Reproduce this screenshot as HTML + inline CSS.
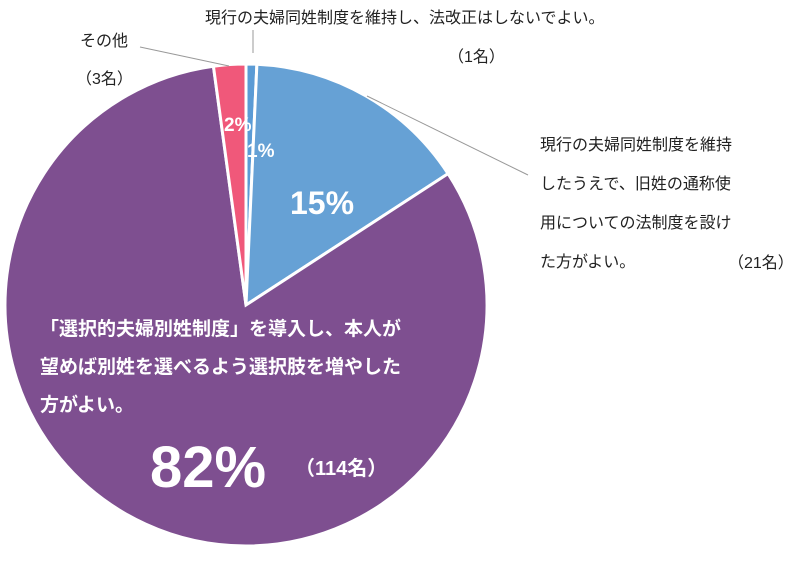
<!DOCTYPE html>
<html><head><meta charset="utf-8"><style>
body{margin:0;background:#fff;width:800px;height:558px;overflow:hidden;font-family:"Liberation Sans","Noto Sans CJK JP",sans-serif}
</style></head><body>
<svg id="c" width="800" height="558" xmlns="http://www.w3.org/2000/svg" style="font-family:'Liberation Sans','Noto Sans CJK JP',sans-serif">
<g id="slices"></g>
<g stroke="#999" stroke-width="1" fill="none">
<line x1="140" y1="47" x2="229" y2="66"/>
<line x1="253" y1="53" x2="253" y2="30"/>
<polyline points="367,96 528,175"/>
</g>
<g font-size="16" fill="#222">
<text x="205" y="23">現行の夫婦同姓制度を維持し、法改正はしないでよい。</text>
<text x="448" y="62">（1名）</text>
<text x="80" y="46">その他</text>
<text x="76" y="84">（3名）</text>
<text x="540" y="150">現行の夫婦同姓制度を維持</text>
<text x="540" y="189">したうえで、旧姓の通称使</text>
<text x="540" y="228">用についての法制度を設け</text>
<text x="540" y="267">た方がよい。</text>
<text x="728" y="268">（21名）</text>
</g>
<g fill="#fff" font-weight="bold">
<text x="224" y="131" font-size="19">2%</text>
<text x="247" y="157" font-size="19">1%</text>
<text x="290" y="214" font-size="32">15%</text>
<text x="40" y="335" font-size="19">「選択的夫婦別姓制度」を導入し、本人が</text>
<text x="40" y="373" font-size="19">望めば別姓を選べるよう選択肢を増やした</text>
<text x="40" y="411" font-size="19">方がよい。</text>
<text x="150" y="487" font-size="58">82%</text>
<text x="295" y="475" font-size="20">（114名）</text>
</g>
</svg>
<script>
const categories=["keep","oldSurname","separate","other"];
const counts=[1,21,114,3];
const colors=["#5B9BD5","#66A1D5","#7E4F90","#F0587A"];
const cx=246,cy=305,r=241;
const g=document.getElementById('slices');
const total=counts.reduce((a,b)=>a+b,0);
let a0=-Math.PI/2;
counts.forEach((v,i)=>{
  const a1=a0+v/total*2*Math.PI;
  const large=(a1-a0)>Math.PI?1:0;
  const p=document.createElementNS('http://www.w3.org/2000/svg','path');
  const x0=cx+r*Math.cos(a0),y0=cy+r*Math.sin(a0),x1=cx+r*Math.cos(a1),y1=cy+r*Math.sin(a1);
  p.setAttribute('d',`M${cx},${cy}L${x0},${y0}A${r},${r} 0 ${large} 1 ${x1},${y1}Z`);
  p.setAttribute('fill',colors[i]);
  p.setAttribute('stroke','#fff');
  p.setAttribute('stroke-width','3');
  
  
  g.appendChild(p);
  a0=a1;
});
</script>
</body></html>
